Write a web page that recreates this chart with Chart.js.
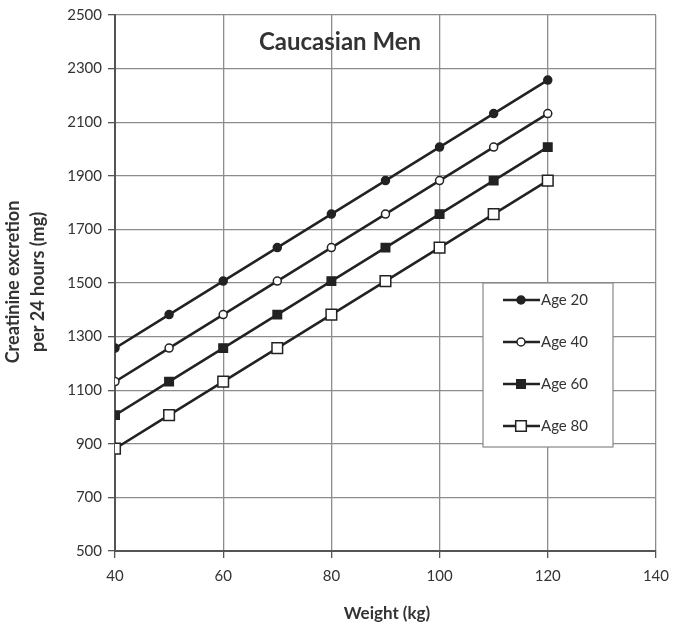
<!DOCTYPE html>
<html>
<head>
<meta charset="utf-8">
<script src="https://cdn.jsdelivr.net/npm/chart.js@4.4.1/dist/chart.umd.min.js"></script>
<style>
  html, body { margin: 0; padding: 0; background: #fff; }
  #wrap { width: 678px; height: 625px; position: relative; }
</style>
</head>
<body>
<div id="wrap"><canvas id="chart"></canvas></div>
<script>
// values
const weights = [40, 50, 60, 70, 80, 90, 100, 110, 120];
const age20 = [1257, 1382, 1507, 1632, 1757, 1882, 2007, 2132, 2257];
const age40 = [1132, 1257, 1382, 1507, 1632, 1757, 1882, 2007, 2132];
const age60 = [1007, 1132, 1257, 1382, 1507, 1632, 1757, 1882, 2007];
const age80 = [882, 1007, 1132, 1257, 1382, 1507, 1632, 1757, 1882];
const seriesLabels = ['Age 20', 'Age 40', 'Age 60', 'Age 80'];
const xTicks = [40, 60, 80, 100, 120, 140];
const yTicks = [500, 700, 900, 1100, 1300, 1500, 1700, 1900, 2100, 2300, 2500];

const chartTitle = 'Caucasian Men';
const xTitle = 'Weight (kg)';
const yTitle = ['Creatinine excretion', 'per 24 hours (mg)'];

const ink = '#222';
const textColor = '#333';
const gridColor = '#8c8c8c';
const fontFamily = 'Lato, "Open Sans", sans-serif';

function toPoints(values) {
    return weights.map((w, i) => ({ x: w, y: values[i] }));
}

const markers = [
    { pointStyle: 'circle', radius: 4, fill: ink },
    { pointStyle: 'circle', radius: 4, fill: '#fff' },
    { pointStyle: 'rect', radius: 6, fill: ink },
    { pointStyle: 'rect', radius: 7.5, fill: '#fff' }
];

const datasets = [age20, age40, age60, age80].map((values, i) => ({
    label: seriesLabels[i],
    data: toPoints(values),
    borderColor: ink,
    borderWidth: 2.5,
    pointStyle: markers[i].pointStyle,
    pointRadius: markers[i].radius,
    pointHoverRadius: markers[i].radius,
    pointBackgroundColor: markers[i].fill,
    pointBorderColor: ink,
    pointBorderWidth: 1.5,
    tension: 0
}));

// legend box + text labels drawn on the canvas
const extras = {
    id: 'extras',
    afterDraw(chart) {
        const ctx = chart.ctx;
        ctx.save();

        // legend
        const box = { x: 483, y: 283, w: 130, h: 164 };
        ctx.fillStyle = '#fff';
        ctx.fillRect(box.x, box.y, box.w, box.h);
        ctx.strokeStyle = '#888';
        ctx.lineWidth = 1.2;
        ctx.strokeRect(box.x, box.y, box.w, box.h);

        const rows = [300, 342, 384, 426];
        chart.data.datasets.forEach((ds, i) => {
            const y = rows[i];
            ctx.strokeStyle = ink;
            ctx.lineWidth = 2.5;
            ctx.beginPath();
            ctx.moveTo(503, y);
            ctx.lineTo(540, y);
            ctx.stroke();

            ctx.fillStyle = ds.pointBackgroundColor;
            ctx.strokeStyle = ink;
            ctx.lineWidth = 1.5;
            Chart.helpers.drawPoint(ctx, {
                pointStyle: ds.pointStyle,
                radius: ds.pointRadius,
                borderWidth: 1.5,
                rotation: 0
            }, 521, y);

            ctx.fillStyle = textColor;
            ctx.font = '15px ' + fontFamily;
            ctx.textAlign = 'left';
            ctx.textBaseline = 'middle';
            ctx.fillText(ds.label, 541, y);
        });

        // chart title
        ctx.fillStyle = textColor;
        ctx.font = 'bold 24px ' + fontFamily;
        ctx.textAlign = 'center';
        ctx.textBaseline = 'middle';
        ctx.fillText(chartTitle, 340, 42);

        // x title
        ctx.font = 'bold 17px ' + fontFamily;
        ctx.fillText(xTitle, 387, 614);

        // y title, rotated
        ctx.font = 'bold 18px ' + fontFamily;
        ctx.translate(25, 282);
        ctx.rotate(-Math.PI / 2);
        ctx.fillText(yTitle[0], 0, -12);
        ctx.fillText(yTitle[1], 0, 13);

        ctx.restore();
    }
};

new Chart(document.getElementById('chart'), {
    type: 'line',
    data: { datasets: datasets },
    options: {
        responsive: true,
        maintainAspectRatio: false,
        animation: false,
        layout: { padding: { top: 14, right: 20, left: 0, bottom: 0 } },
        scales: {
            x: {
                type: 'linear',
                min: 40,
                max: 140,
                afterBuildTicks: scale => { scale.ticks = xTicks.map(v => ({ value: v })); },
                afterFit: scale => { scale.height = 74; },
                ticks: {
                    color: textColor,
                    font: { family: fontFamily, size: 15 },
                    padding: 9,
                    maxRotation: 0,
                    callback: value => String(value)
                },
                grid: { color: gridColor, lineWidth: 1.3, tickLength: 7, tickColor: '#555' },
                border: { color: '#555', width: 2 }
            },
            y: {
                min: 500,
                max: 2500,
                afterBuildTicks: scale => { scale.ticks = yTicks.map(v => ({ value: v })); },
                afterFit: scale => { scale.width = 115; },
                ticks: {
                    color: textColor,
                    font: { family: fontFamily, size: 15 },
                    padding: 6,
                    callback: value => String(value)
                },
                grid: { color: gridColor, lineWidth: 1.3, tickLength: 7, tickColor: '#555' },
                border: { color: '#555', width: 2 }
            }
        },
        plugins: {
            legend: { display: false },
            title: { display: false },
            tooltip: { enabled: false }
        }
    },
    plugins: [extras]
});
</script>
</body>
</html>
